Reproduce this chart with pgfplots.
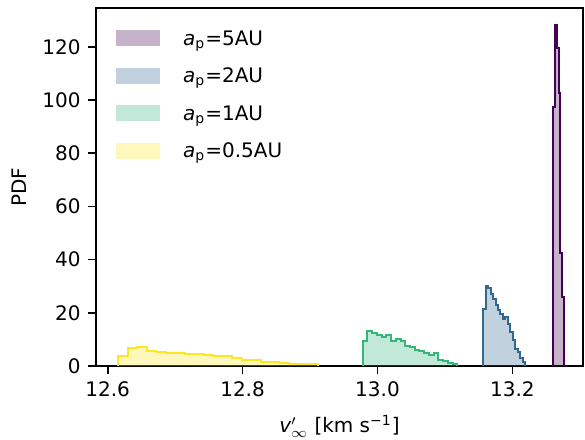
\documentclass[border=0pt]{standalone}
\usepackage{fontspec}
\setmainfont{DejaVu Sans}
\usepackage{pgfplots}
\usepackage{pgfplotstable}
\pgfplotsset{compat=1.18}

\definecolor{cfive}{HTML}{440154}
\definecolor{ctwo}{HTML}{31688E}
\definecolor{cone}{HTML}{35B779}
\definecolor{chalf}{HTML}{FDE725}

% step histograms: first row = left edge at 0, then (right edge, height), last row = right edge at 0
\pgfplotstableread{
x y
13.26093 0
13.26352 97.4
13.26612 128.2
13.26871 119.4
13.27131 102.7
13.27390 42.3
13.27650 26.0
13.27650 0
}\tabfive

\pgfplotstableread{
x y
13.1569 0
13.1605 21.6
13.1642 30.0
13.1678 29.5
13.1714 27.2
13.1751 25.3
13.1787 22.8
13.1823 20.9
13.1860 19.7
13.1896 17.8
13.1933 18.4
13.1969 15.9
13.2005 12.8
13.2042 9.7
13.2078 6.5
13.2114 5.3
13.2151 3.1
13.2187 1.5
13.2187 0
}\tabtwo

\pgfplotstableread{
x y
12.9781 0
12.9851 9.3
12.9921 13.3
12.9991 12.3
13.0061 11.5
13.0132 10.8
13.0202 11.5
13.0272 9.3
13.0342 10.0
13.0412 9.3
13.0482 7.7
13.0552 7.3
13.0622 6.1
13.0692 5.6
13.0762 4.8
13.0833 4.3
13.0903 4.8
13.0973 2.3
13.1043 1.8
13.1113 1.2
13.1183 0.7
13.1183 0
}\tabone

\pgfplotstableread{
x y
12.6158 0
12.6299 3.8
12.6439 6.9
12.6580 7.1
12.6721 5.6
12.6862 5.3
12.7002 4.8
12.7143 4.8
12.7284 4.7
12.7424 4.5
12.7565 4.3
12.7706 3.9
12.7846 3.9
12.7987 2.9
12.8128 2.3
12.8269 2.3
12.8409 1.6
12.8550 1.6
12.8691 1.2
12.8831 0.9
12.8972 0.9
12.9113 0.6
12.9113 0
}\tabhalf

\begin{document}
\fontsize{10}{12}\selectfont
\begin{tikzpicture}
\begin{axis}[
    name=ax,
    scale only axis,
    width=243.5pt, height=179pt,
    xmin=12.5827, xmax=13.3047,
    ymin=0, ymax=134.6,
    xtick={12.6,12.8,13.0,13.2},
    ytick={0,20,40,60,80,100,120},
    xticklabel style={/pgf/number format/.cd, fixed, fixed zerofill, precision=1},
    /pgf/number format/assume math mode=true,
    tick align=outside,
    tick pos=left,
    major tick length=4.2pt,
    every tick/.style={black, line width=0.85pt},
    axis line style={line width=0.85pt},
    xlabel={{\itshape v}$'_{\infty}$ [km s\textsuperscript{−1}]},
    ylabel={PDF},
    xlabel style={at={(axis description cs:0.5,0)}, anchor=base, yshift=-33.3pt},
    ylabel style={at={(axis description cs:-0.1423,0.5)}, anchor=base},
    legend style={at={(axis description cs:0.041,0.9385)}, anchor=north west,
        draw=none, fill=none, inner sep=0pt, row sep=8.25pt,
        cells={anchor=base west},
        nodes={inner sep=0pt, text height=7.5pt, text depth=3pt},
        /tikz/every odd column/.append style={column sep=11.4pt}},
    legend image code/.code={\fill[#1] (0pt,-0.35pt) rectangle (22pt,7.5pt);},
]
\addplot[const plot mark right, draw=none, fill=cfive, fill opacity=0.3] table {\tabfive};
\addlegendentry{{\itshape a}\textsubscript{p}=5AU}
\addplot[const plot mark right, draw=none, fill=ctwo, fill opacity=0.3] table {\tabtwo};
\addlegendentry{{\itshape a}\textsubscript{p}=2AU}
\addplot[const plot mark right, draw=none, fill=cone, fill opacity=0.3] table {\tabone};
\addlegendentry{{\itshape a}\textsubscript{p}=1AU}
\addplot[const plot mark right, draw=none, fill=chalf, fill opacity=0.3] table {\tabhalf};
\addlegendentry{{\itshape a}\textsubscript{p}=0.5AU}

\addplot[const plot mark right, cfive, line width=1pt, forget plot] table {\tabfive};
\addplot[const plot mark right, ctwo, line width=1pt, forget plot] table {\tabtwo};
\addplot[const plot mark right, cone, line width=1pt, forget plot] table {\tabone};
\addplot[const plot mark right, chalf, line width=1pt, forget plot] table {\tabhalf};
\end{axis}
\pgfresetboundingbox
\path ([xshift=-48pt,yshift=-36.5pt]ax.south west) rectangle ([xshift=1pt,yshift=4pt]ax.north east);
\end{tikzpicture}
\end{document}
